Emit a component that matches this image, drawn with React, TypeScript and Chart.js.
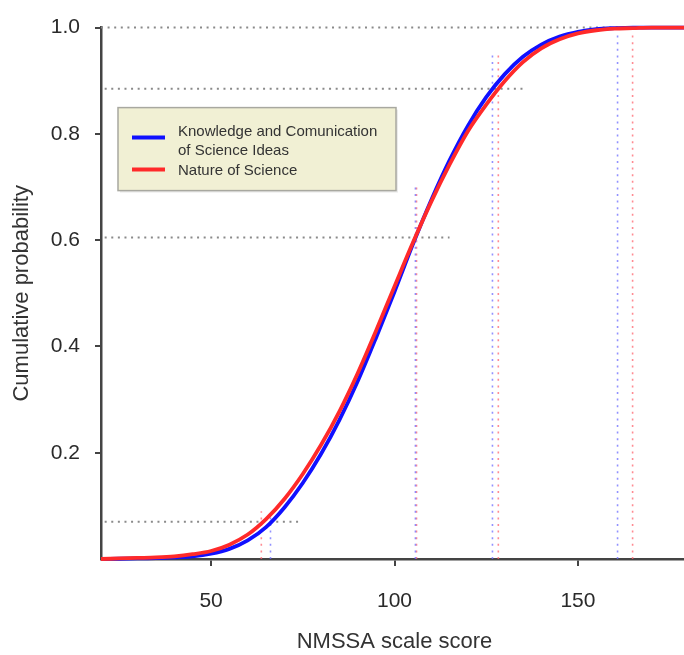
import React, { useEffect, useRef } from "react";
import { Chart, registerables } from "chart.js";

Chart.register(...registerables);

const scoreValues = [20, 25, 30, 35, 40, 45, 50, 55, 60, 65, 70, 75, 80, 85, 90, 95, 100, 105, 110, 115, 120, 125, 130, 135, 140, 145, 150, 155, 160, 165, 170, 175, 180];
const knowledgeProb = [0.0, 0.0005, 0.001, 0.0015, 0.003, 0.005, 0.010, 0.019, 0.035, 0.060, 0.097, 0.143, 0.198, 0.262, 0.335, 0.417, 0.503, 0.592, 0.675, 0.750, 0.815, 0.869, 0.912, 0.945, 0.968, 0.983, 0.992, 0.997, 0.999, 1.0, 1.0, 1.0, 1.0];
const natureProb = [0.0, 0.001, 0.002, 0.003, 0.005, 0.009, 0.015, 0.027, 0.046, 0.075, 0.113, 0.160, 0.215, 0.278, 0.350, 0.430, 0.513, 0.595, 0.672, 0.742, 0.805, 0.855, 0.899, 0.935, 0.961, 0.978, 0.989, 0.995, 0.998, 0.999, 1.0, 1.0, 1.0];

const xTickValues = [50, 100, 150];
const yTickValues = [0.2, 0.4, 0.6, 0.8, 1.0];

// horizontal grey dotted guides
const guideY = [1.0, 0.885, 0.605, 0.07];
const guideXStart = [20, 21, 21, 21];
const guideXEnd = [180, 135.5, 115, 74];

// vertical dotted markers
const knowledgeMarkX = [66.2, 105.7, 126.7, 160.8];
const knowledgeMarkTop = [0.08, 0.70, 0.95, 0.99];
const natureMarkX = [63.7, 106.0, 128.3, 164.9];
const natureMarkTop = [0.09, 0.70, 0.95, 0.99];

const legendLabels = [["Knowledge and Comunication", "of Science Ideas"], ["Nature of Science"]];
const BLUE = "#1010ff";
const RED = "#ff2a2a";

const legendPlugin = {
  id: "boxLegend",
  afterDatasetsDraw(chart: any) {
    const ctx = chart.ctx;
    const a = chart.chartArea;
    const bx = a.left + 17;
    const by = a.top + 80;
    const bw = 278;
    const bh = 83;
    ctx.save();
    ctx.fillStyle = "rgba(0,0,0,0.08)";
    ctx.fillRect(bx + 2, by + 2, bw, bh);
    ctx.fillStyle = "#f1f0d4";
    ctx.fillRect(bx, by, bw, bh);
    ctx.strokeStyle = "#a8a8a0";
    ctx.lineWidth = 1.5;
    ctx.strokeRect(bx, by, bw, bh);
    ctx.font = "15px 'Liberation Sans', Arial, sans-serif";
    ctx.fillStyle = "#333";
    ctx.textBaseline = "middle";
    const tx = bx + 60;
    ctx.fillText(legendLabels[0][0], tx, by + 24);
    ctx.fillText(legendLabels[0][1], tx, by + 43);
    ctx.fillText(legendLabels[1][0], tx, by + 63);
    ctx.lineWidth = 4;
    ctx.strokeStyle = BLUE;
    ctx.beginPath();
    ctx.moveTo(bx + 14, by + 30);
    ctx.lineTo(bx + 47, by + 30);
    ctx.stroke();
    ctx.strokeStyle = RED;
    ctx.beginPath();
    ctx.moveTo(bx + 14, by + 62);
    ctx.lineTo(bx + 47, by + 62);
    ctx.stroke();
    ctx.restore();
  },
};

export default function App() {
  const ref = useRef<HTMLCanvasElement | null>(null);
  useEffect(() => {
    document.body.style.margin = "0";
    if (!ref.current) return;
    const datasets: any[] = [];
    datasets.push({
      label: "Nature of Science",
      data: scoreValues.map((x, i) => ({ x, y: natureProb[i] })),
      borderColor: RED,
      borderWidth: 3.8,
      pointRadius: 0,
      cubicInterpolationMode: "monotone",
      clip: false,
      order: 0,
    });
    datasets.push({
      label: "Knowledge and Comunication of Science Ideas",
      data: scoreValues.map((x, i) => ({ x, y: knowledgeProb[i] })),
      borderColor: BLUE,
      borderWidth: 3.8,
      pointRadius: 0,
      cubicInterpolationMode: "monotone",
      clip: false,
      order: 1,
    });
    guideY.forEach((y, i) => {
      datasets.push({
        label: "g" + i,
        data: [{ x: guideXStart[i], y }, { x: guideXEnd[i], y }],
        borderColor: "#8a8a8a",
        borderWidth: 2,
        borderDash: [2, 4.6],
        pointRadius: 0,
        clip: false,
        order: 3,
      });
    });
    knowledgeMarkX.forEach((x, i) => {
      datasets.push({
        label: "kb" + i,
        data: [{ x, y: 0 }, { x, y: knowledgeMarkTop[i] }],
        borderColor: "rgba(110,110,255,0.75)",
        borderWidth: 1.6,
        borderDash: [2, 4.6],
        pointRadius: 0,
        order: 2,
      });
    });
    natureMarkX.forEach((x, i) => {
      datasets.push({
        label: "nr" + i,
        data: [{ x, y: 0 }, { x, y: natureMarkTop[i] }],
        borderColor: "rgba(255,100,110,0.75)",
        borderWidth: 1.6,
        borderDash: [2, 4.6],
        pointRadius: 0,
        order: 2,
      });
    });
    const chart = new Chart(ref.current, {
      type: "line",
      data: { datasets },
      options: {
        animation: false,
        responsive: false,
        maintainAspectRatio: false,
        layout: { padding: { left: 0, top: 23, right: 12, bottom: 0 } },
        plugins: { legend: { display: false }, tooltip: { enabled: false } },
        scales: {
          x: {
            type: "linear",
            min: 20,
            max: 180,
            afterBuildTicks: (s: any) => {
              s.ticks = xTickValues.map((v) => ({ value: v }));
            },
            afterFit: (s: any) => {
              s.height = 96;
            },
            grid: { drawOnChartArea: false, drawTicks: true, tickLength: 7, color: "#444", lineWidth: 2 },
            border: { display: true, color: "#444", width: 2.5 },
            ticks: { padding: 23, color: "#2a2a2a", font: { size: 21, family: "'Liberation Sans', Arial, sans-serif" } },
            title: {
              display: true,
              text: "NMSSA scale score",
              color: "#333",
              font: { size: 22, family: "'Liberation Sans', Arial, sans-serif" },
              padding: { top: 0, bottom: 0 },
            },
          },
          y: {
            type: "linear",
            min: 0,
            max: 1,
            afterBuildTicks: (s: any) => {
              s.ticks = yTickValues.map((v) => ({ value: v }));
            },
            afterFit: (s: any) => {
              s.width = 101;
            },
            grid: { drawOnChartArea: false, drawTicks: true, tickLength: 6, color: "#444", lineWidth: 2 },
            border: { display: true, color: "#444", width: 2.5 },
            ticks: {
              padding: 15,
              color: "#2a2a2a",
              font: { size: 21, family: "'Liberation Sans', Arial, sans-serif" },
              callback: (v: any) => Number(v).toFixed(1),
            },
            title: {
              display: true,
              text: "Cumulative probability",
              color: "#333",
              font: { size: 22, family: "'Liberation Sans', Arial, sans-serif" },
              padding: { top: 9, bottom: 0 },
            },
          },
        },
      },
      plugins: [legendPlugin],
    });
    return () => chart.destroy();
  }, []);
  return (
    <div style={{ width: 684, height: 655, overflow: "hidden", position: "relative", background: "#fff" }}>
      <canvas ref={ref} width={700} height={655} style={{ display: "block", width: 700, height: 655 }} />
    </div>
  );
}
